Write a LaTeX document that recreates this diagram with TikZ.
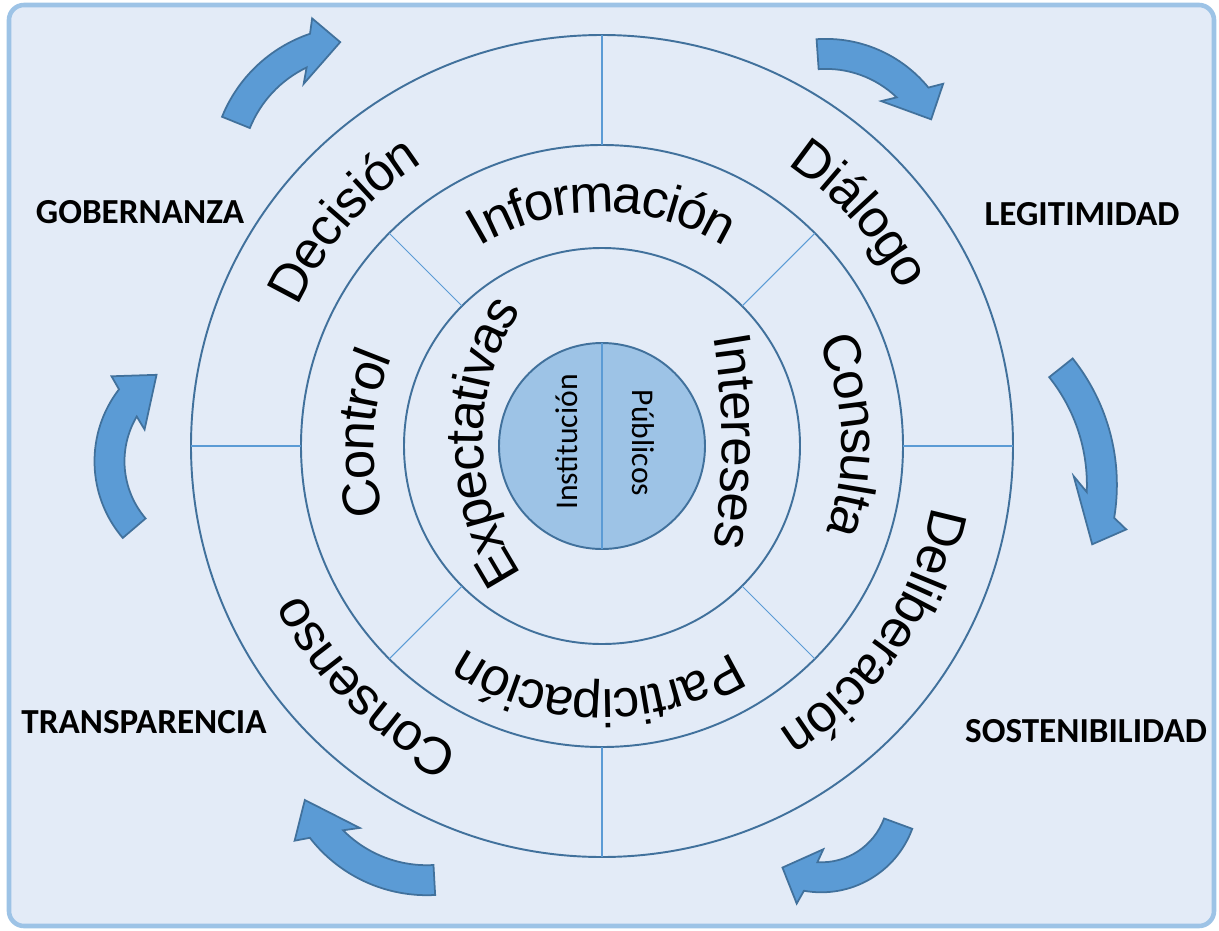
\documentclass[tikz,border=0pt]{standalone}
\usepackage{fontspec}
\setmainfont{Liberation Sans}
\newfontfamily\calibri{Carlito}
\usetikzlibrary{decorations.text}

\definecolor{panel}{HTML}{E3EBF7}
\definecolor{panelline}{HTML}{9DC3E6}
\definecolor{ringline}{HTML}{41719C}
\definecolor{coreblue}{HTML}{9DC3E6}
\definecolor{arrowblue}{HTML}{5B9BD5}

\newcommand{\px}{0.02cm}
\newcommand{\ringfont}{\fontsize{30}{30}\selectfont}

\tikzset{
	ring/.style={circle, draw=ringline, line width=1.1pt, inner sep=0pt, outer sep=0pt},
	divider/.style={draw=arrowblue, line width=0.6pt},
	ringtext/.style={decorate, decoration={text along path, text align=center, raise=-0.36cm, text={|\ringfont|#1}}},
	bent/.style={fill=arrowblue, draw=ringline, line width=1pt},
	goal/.style={font=\calibri\bfseries\fontsize{20}{20}\selectfont},
	party/.style={font=\calibri\fontsize{18}{18}\selectfont}
}

\newcommand{\bentarrow}[6]{%
	\begin{scope}[shift={(#1,#2)}]
		\draw[bent] (#4:{#3+15}) arc[start angle=#4, end angle={#5-3.5}, radius={#3+15}]
		-- ({#5-6}:{#3+29}) -- (#6:#3) -- ({#5+9}:{#3-28})
		-- ({#5+3.5}:{#3-15}) arc[start angle={#5+3.5}, end angle=#4, radius={#3-15}] -- cycle;
	\end{scope}}

\begin{document}
\begin{tikzpicture}[x=\px, y=\px]
		
		\useasboundingbox (-602,446) rectangle (617,-484);
		
		\draw[fill=panel, draw=panelline, line width=2.6pt, rounded corners=0.3cm] (-593,441) rectangle (612,-480);
		
		\node[ring, minimum size=822*\px] (outer) at (0,0) {};
		
		\node[ring, minimum size=602*\px] (middle) at (0,0) {};
		
		\node[ring, minimum size=396*\px] (inner) at (0,0) {};
		
		\node[ring, fill=coreblue, minimum size=206*\px] (core) at (0,0) {};
		
		\draw[divider] (outer.90) -- (middle.90)
		(outer.180) -- (middle.180)
		(outer.270) -- (middle.270)
		(outer.0) -- (middle.0);
		
		\draw[divider] (middle.45) -- (inner.45)
		(middle.135) -- (inner.135)
		(middle.225) -- (inner.225)
		(middle.315) -- (inner.315);
		
		\draw[divider] (core.north) -- (core.south);
		
		\path[ringtext={Decisión}] (198.8:353) arc[start angle=198.8, end angle=78.8, radius=353];
		\path[ringtext={Diálogo}] (102:355) arc[start angle=102, end angle=-18, radius=355];
		\path[ringtext={Deliberación}] (25.7:353) arc[start angle=25.7, end angle=-94.3, radius=353];
		\path[ringtext={Consenso}] (-74.5:353) arc[start angle=-74.5, end angle=-194.5, radius=353];
		
		\path[ringtext={Información}] (170:252) arc[start angle=170, end angle=10, radius=252];
		\path[ringtext={Consulta}] (82.4:258) arc[start angle=82.4, end angle=-77.6, radius=258];
		\path[ringtext={Participación}] (-11:262) arc[start angle=-11, end angle=-171, radius=262];
		\path[ringtext={Control}] (257:246) arc[start angle=257, end angle=97, radius=246];
		
		\path[ringtext={Expectativas}] (0,4) ++(268:137 and 196) arc[start angle=268, end angle=92, x radius=137, y radius=196];
		\path[ringtext={Intereses}] (0,5) ++(88:138 and 300) arc[start angle=88, end angle=-88, x radius=138, y radius=300];
		
		\node[party, rotate=90] (inst) at (-35,4) {Institución};
		
		\node[party, rotate=-90] (pub) at (41,3) {Públicos};
		
		\bentarrow{-245.5}{274.9}{130}{158}{112.2}{97.2}
		\bentarrow{223.8}{274.6}{117.5}{94}{42.75}{26.3}
		\bentarrow{312.4}{-38.8}{187.5}{38.6}{-5.9}{-18.5}
		\bentarrow{219.2}{-349.3}{82}{-20.2}{-96.75}{-118.2}
		\bentarrow{-175.1}{-301.2}{133}{273.2}{221.25}{203.4}
		\bentarrow{-389.5}{-15.3}{103}{220.5}{145.9}{122.9}
		
		\node[goal] (gob) at (-462,234) {GOBERNANZA};
		
		\node[goal] (leg) at (480,232) {LEGITIMIDAD};
		
		\node[goal] (sos) at (484,-285) {SOSTENIBILIDAD};
		
		\node[goal] (tra) at (-458,-276) {TRANSPARENCIA};
		
	\end{tikzpicture}
\end{document}
